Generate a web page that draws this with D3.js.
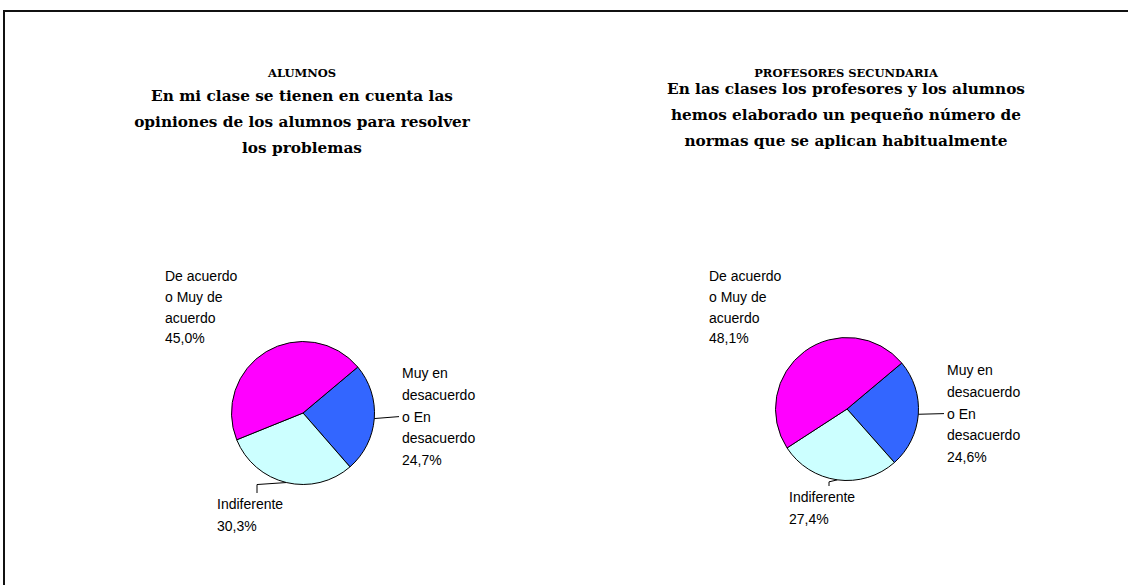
<!DOCTYPE html>
<html>
<head>
<meta charset="utf-8">
<title>Pies alumnos / profesores</title>
<script src="https://d3js.org/d3.v7.min.js"></script>
<style>
  body { margin: 0; background: #fff; }
</style>
</head>
<body>
<svg id="visual" width="1128" height="585"></svg>
<script>
// data
var categories = ["Muy en desacuerdo o En desacuerdo", "Indiferente", "De acuerdo o Muy de acuerdo"];
var colors = ["#3366FF", "#CCFFFF", "#FF00FF"];
var alumnosValues = [24.7, 30.3, 45.0];
var profesoresValues = [24.6, 27.4, 48.1];
var headers = ["ALUMNOS", "PROFESORES SECUNDARIA"];
var alumnosTitle = ["En mi clase se tienen en cuenta las", "opiniones de los alumnos para resolver", "los problemas"];
var profesoresTitle = ["En las clases los profesores y los alumnos", "hemos elaborado un pequeño número de", "normas que se aplican habitualmente"];
var labelLines = [["Muy en", "desacuerdo", "o En", "desacuerdo"], ["Indiferente"], ["De acuerdo", "o Muy de", "acuerdo"]];

var svg = d3.select("#visual");

// outer frame (runs off the right/bottom edge like the original)
svg.append("rect")
    .attr("x", 4).attr("y", 11)
    .attr("width", 1200).attr("height", 700)
    .attr("fill", "none")
    .attr("stroke", "#111")
    .attr("stroke-width", 2);

var fmt = function(v) { return v.toFixed(1).replace(".", ",") + "%"; };

var charts = [
    { values: alumnosValues, header: headers[0], title: alumnosTitle, cx: 303, cy: 413, titleY: 101,
      lab: [[99, -40], [-86, 91], [-138, -137]] },
    { values: profesoresValues, header: headers[1], title: profesoresTitle, cx: 847, cy: 409, titleY: 94,
      lab: [[100, -39], [-58, 88], [-138, -133]] }
];

var r = 71.5;
var lineH = 21.8;
var arc = d3.arc().innerRadius(0).outerRadius(r);

charts.forEach(function(c) {
    var g = svg.append("g");

    g.append("text")
        .attr("x", c.cx - 1).attr("y", 77)
        .attr("text-anchor", "middle")
        .attr("font-family", "'DejaVu Serif', serif")
        .attr("font-weight", "bold")
        .attr("font-size", 11.5)
        .text(c.header);

    g.append("text")
        .attr("text-anchor", "middle")
        .attr("font-family", "'DejaVu Serif', serif")
        .attr("font-weight", "bold")
        .attr("font-size", 15.3)
        .selectAll("tspan")
        .data(c.title)
        .enter().append("tspan")
        .attr("x", c.cx - 1)
        .attr("y", function(d, i) { return c.titleY + i * 26; })
        .text(function(d) { return d; });

    var start = 50 * Math.PI / 180;
    var pie = d3.pie().sort(null).startAngle(start).endAngle(start + 2 * Math.PI);
    var arcs = pie(c.values);

    var pg = g.append("g").attr("transform", "translate(" + c.cx + "," + c.cy + ")");
    pg.selectAll("path")
        .data(arcs)
        .enter().append("path")
        .attr("d", arc)
        .attr("fill", function(d, i) { return colors[i]; })
        .attr("stroke", "#000")
        .attr("stroke-width", 1);

    // labels
    arcs.forEach(function(a, i) {
        var lines = labelLines[i].concat([fmt(c.values[i])]);
        var lx = c.lab[i][0], ly = c.lab[i][1];
        var lh = i === 2 ? 20.8 : lineH;
        pg.append("text")
            .attr("font-family", "'Liberation Sans', Arial, sans-serif")
            .attr("font-size", 14)
            .attr("fill", "#000")
            .selectAll("tspan")
            .data(lines)
            .enter().append("tspan")
            .attr("x", lx)
            .attr("y", function(d, k) { return ly + k * lh; })
            .attr("dy", "0.35em")
            .text(function(d) { return d; });

        var mid = (a.startAngle + a.endAngle) / 2;
        var px = Math.sin(mid) * r, py = -Math.cos(mid) * r;
        var pts = null;
        if (i === 0) {
            pts = [[px, py], [lx - 3, ly + 2 * lh]];
        } else if (i === 1) {
            pts = [[px, py], [lx + 40, py + 2], [lx + 40, ly - 11]];
        }
        if (pts) {
            pg.append("path")
                .attr("d", d3.line()(pts))
                .attr("fill", "none")
                .attr("stroke", "#000")
                .attr("stroke-width", 1);
        }
    });
});
</script>
</body>
</html>
